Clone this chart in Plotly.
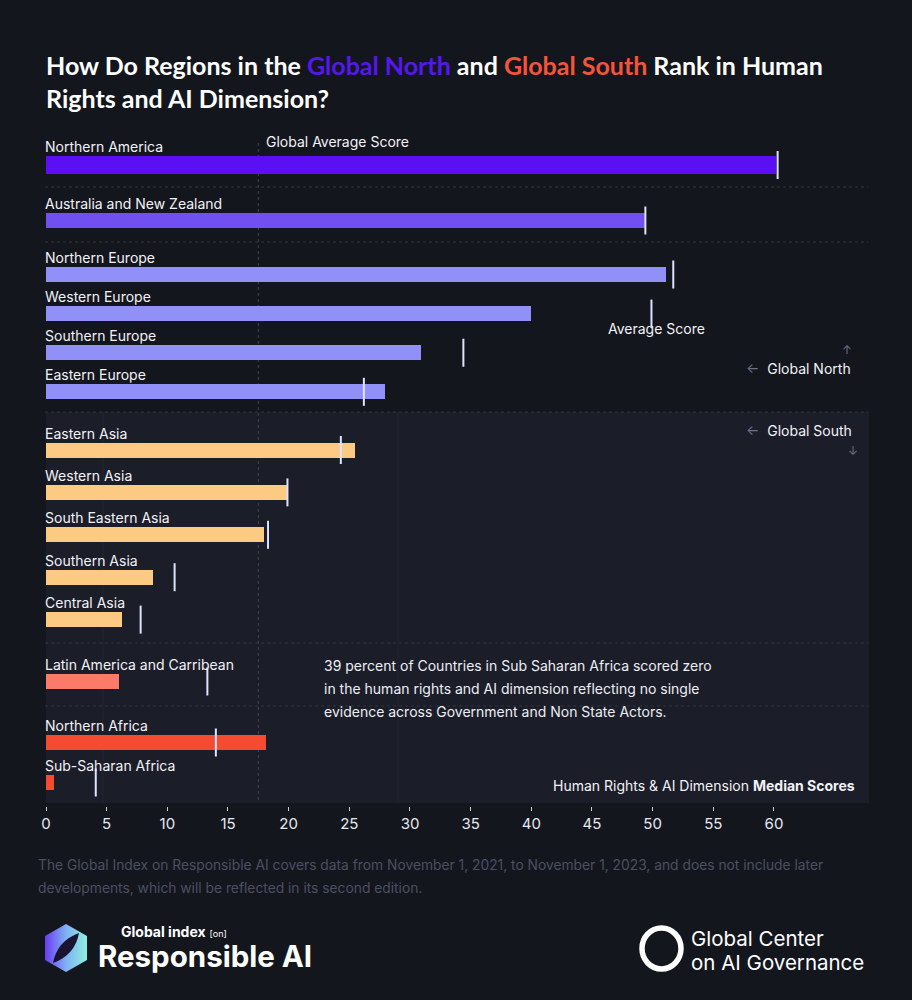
import plotly.graph_objects as go

# ---------------- DATA ----------------
regions = [
    "Northern America", "Australia and New Zealand", "Northern Europe",
    "Western Europe", "Southern Europe", "Eastern Europe",
    "Eastern Asia", "Western Asia", "South Eastern Asia", "Southern Asia",
    "Central Asia", "Latin America and Carribean", "Northern Africa",
    "Sub-Saharan Africa",
]
median_scores = [60.2, 49.4, 51.1, 40.0, 30.9, 27.9,
                 25.5, 19.9, 18.0, 8.8, 6.3, 6.0, 18.1, 0.7]
average_scores = [60.3, 49.4, 51.7, 49.9, 34.4, 26.2,
                  24.3, 19.9, 18.3, 10.6, 7.8, 13.3, 14.0, 4.1]
global_average = 17.5
tick_values = list(range(0, 61, 5))

# ---------------- STYLE / LAYOUT ----------------
W, H = 912, 1000
BG = "#14161e"
PANEL = "#1b1e29"
bar_colors = ["#5a10f2", "#7050f0"] + ["#9090f8"] * 4 + ["#fdca83"] * 5 + \
             ["#fa7b69", "#f54b30", "#f54b30"]

# row layout: groups of (first row centre, pitch, count) in pixel space
groups = [(165, 0, 1), (220.5, 0, 1), (274.5, 39.1, 4),
          (450, 42.4, 5), (681.5, 0, 1), (742.5, 40, 2)]
row_y = []
for start, pitch, n in groups:
    row_y += [start + i * pitch for i in range(n)]
bar_h = [18] + [15] * (len(regions) - 1)

PX0, PX_PER = 46.0, 12.133          # data 0 -> pixel 46
x_range = [-PX0 / PX_PER, (W - PX0) / PX_PER]

def px(x):
    return x / W

FONT = "Inter"

fig = go.Figure()

# bars
fig.add_trace(go.Bar(
    x=median_scores, y=row_y, orientation="h", width=bar_h,
    marker=dict(color=bar_colors, line=dict(width=0)),
    hoverinfo="skip", showlegend=False,
))
# average markers
fig.add_trace(go.Scatter(
    x=average_scores, y=row_y, mode="markers",
    marker=dict(symbol="line-ns", size=20,
                line=dict(width=2, color="#dfe3ff")),
    hoverinfo="skip", showlegend=False,
))

# logo (gradient hexagon) on pixel axes
hex_x = [66, 87, 87, 66, 45, 45, 66]
hex_y = [924, 936, 960, 972, 960, 936, 924]
fig.add_trace(go.Scatter(
    x=hex_x, y=hex_y, xaxis="x2", yaxis="y", mode="lines",
    fill="toself", line=dict(width=0, color="#7fd8ee"),
    fillgradient=dict(type="horizontal",
                      colorscale=[[0, "#6a3cf0"], [0.5, "#7fb0f4"], [1, "#8ff0de"]]),
    hoverinfo="skip", showlegend=False,
))

shapes = []
# Global South panel
shapes.append(dict(type="rect", xref="paper", yref="y", x0=px(46), x1=px(869),
                   y0=412, y1=803, fillcolor=PANEL, line=dict(width=0), layer="below"))
# dotted separators
for yy in [187, 242, 412, 643, 706]:
    shapes.append(dict(type="line", xref="paper", yref="y", x0=px(45), x1=px(868),
                       y0=yy, y1=yy, line=dict(color="#30343f", width=1, dash="dot"),
                       layer="below"))
# faint column lines in South panel
for xx in [103, 398]:
    shapes.append(dict(type="line", xref="paper", yref="y", x0=px(xx), x1=px(xx),
                       y0=412, y1=803, line=dict(color="#22252f", width=1),
                       layer="below"))
# global average dotted line
shapes.append(dict(type="line", xref="x", yref="y", x0=global_average, x1=global_average,
                   y0=143, y1=803, line=dict(color="#40444f", width=1, dash="dot"),
                   layer="below"))
# logo leaf
shapes.append(dict(type="path", xref="paper", yref="y",
                   path=f"M {px(53)} 963 Q {px(57)} 941 {px(79)} 933 Q {px(75)} 955 {px(53)} 963 Z",
                   fillcolor="#191530", line=dict(width=0)))
# right logo ring
shapes.append(dict(type="circle", xref="paper", yref="y", x0=px(642), x1=px(681),
                   y0=928, y1=969, line=dict(color="white", width=5.5)))

ann = []
# title
ann.append(dict(
    xref="paper", yref="y", x=px(44), y=48, xanchor="left", yanchor="top", align="left",
    showarrow=False,
    text="<b>How Do Regions in the <span style='color:#5418ef'>Global North</span> and "
         "<span style='color:#f4553a'>Global South</span> Rank in Human<br>"
         "Rights and AI Dimension?</b>",
    font=dict(family="Lato", size=25, color="white"),
))
# region labels
for r, yc, h in zip(regions, row_y, bar_h):
    ann.append(dict(xref="x", yref="y", x=0, y=yc - h / 2 + 1, xanchor="left",
                    yanchor="bottom", showarrow=False, xshift=-3, text=r,
                    font=dict(family=FONT, size=14, color="#f2f2f6")))
# global average label
ann.append(dict(xref="x", yref="y", x=global_average, y=141, xanchor="left", yanchor="middle",
                xshift=6, showarrow=False, text="Global Average Score",
                font=dict(family=FONT, size=14, color="#f2f2f6")))
# "Average Score" under the Western Europe marker
ann.append(dict(xref="x", yref="y", x=average_scores[3], y=328, xanchor="center",
                yanchor="middle", xshift=5, showarrow=False, text="Average Score",
                font=dict(family=FONT, size=14, color="#f2f2f6")))
# hemisphere hints
ann.append(dict(xref="paper", yref="y", x=px(853), y=368, xanchor="right", yanchor="middle",
                showarrow=False,
                text="<span style='color:#6b7084'>←</span>  Global North",
                font=dict(family=FONT, size=14, color="#f2f2f6")))
ann.append(dict(xref="paper", yref="y", x=px(847), y=349, xanchor="center", yanchor="middle",
                showarrow=False, text="↑", font=dict(family=FONT, size=12, color="#6b7084")))
ann.append(dict(xref="paper", yref="y", x=px(854), y=430, xanchor="right", yanchor="middle",
                showarrow=False,
                text="<span style='color:#6b7084'>←</span>  Global South",
                font=dict(family=FONT, size=14, color="#f2f2f6")))
ann.append(dict(xref="paper", yref="y", x=px(853), y=450, xanchor="center", yanchor="middle",
                showarrow=False, text="↓", font=dict(family=FONT, size=12, color="#6b7084")))
# note
note_lines = ["39 percent of Countries in Sub Saharan Africa scored zero",
              "in the human rights and AI dimension reflecting no single",
              "evidence across Government and Non State Actors."]
for i, t in enumerate(note_lines):
    ann.append(dict(xref="paper", yref="y", x=px(322), y=665 + 23 * i, xanchor="left",
                    yanchor="middle", showarrow=False, text=t,
                    font=dict(family=FONT, size=14, color="#eceef4")))
ann.append(dict(xref="paper", yref="y", x=px(857), y=785, xanchor="right", yanchor="middle",
                showarrow=False, text="Human Rights & AI Dimension <b>Median Scores</b>",
                font=dict(family=FONT, size=14, color="#f2f2f6")))
# footer
foot = ["The Global Index on Responsible AI covers data from November 1, 2021, to November 1, 2023, and does not include later",
        "developments, which will be reflected in its second edition."]
for i, t in enumerate(foot):
    ann.append(dict(xref="paper", yref="y", x=px(36), y=865 + 23 * i, xanchor="left",
                    yanchor="middle", showarrow=False, text=t,
                    font=dict(family=FONT, size=13.8, color="#4a5063")))
# logos text
ann.append(dict(xref="paper", yref="y", x=px(119), y=931, xanchor="left", yanchor="middle",
                showarrow=False,
                text="<b>Global index</b> <span style='font-size:9px'>[on]</span>",
                font=dict(family=FONT, size=14, color="white")))
ann.append(dict(xref="paper", yref="y", x=px(96), y=956, xanchor="left", yanchor="middle",
                showarrow=False, text="<b>Responsible AI</b>",
                font=dict(family=FONT, size=29.5, color="white")))
ann.append(dict(xref="paper", yref="y", x=px(689), y=938, xanchor="left", yanchor="middle",
                showarrow=False, text="Global Center",
                font=dict(family=FONT, size=20.5, color="white")))
ann.append(dict(xref="paper", yref="y", x=px(689), y=962, xanchor="left", yanchor="middle",
                showarrow=False, text="on AI Governance",
                font=dict(family=FONT, size=20.5, color="white")))

fig.update_layout(
    width=W, height=H, margin=dict(l=0, r=0, t=0, b=0),
    paper_bgcolor=BG, plot_bgcolor=BG, bargap=0,
    shapes=shapes, annotations=ann,
    xaxis=dict(range=x_range, anchor="free", position=1 - 806 / H,
               tickvals=tick_values, ticks="outside", ticklen=4, tickwidth=1,
               tickcolor="#c9cdd9", showgrid=False, zeroline=False, showline=False,
               tickfont=dict(family=FONT, size=15, color="#e6e8f0"), fixedrange=True),
    xaxis2=dict(range=[0, W], overlaying="x", visible=False, fixedrange=True),
    yaxis=dict(range=[H, 0], visible=False, fixedrange=True),
)

fig.write_html(
    "out.html",
    config={"displayModeBar": False},
    post_script="document.body.style.margin='0px';"
                "document.body.style.background='#14161e';"
                "document.body.style.overflow='hidden';",
)
